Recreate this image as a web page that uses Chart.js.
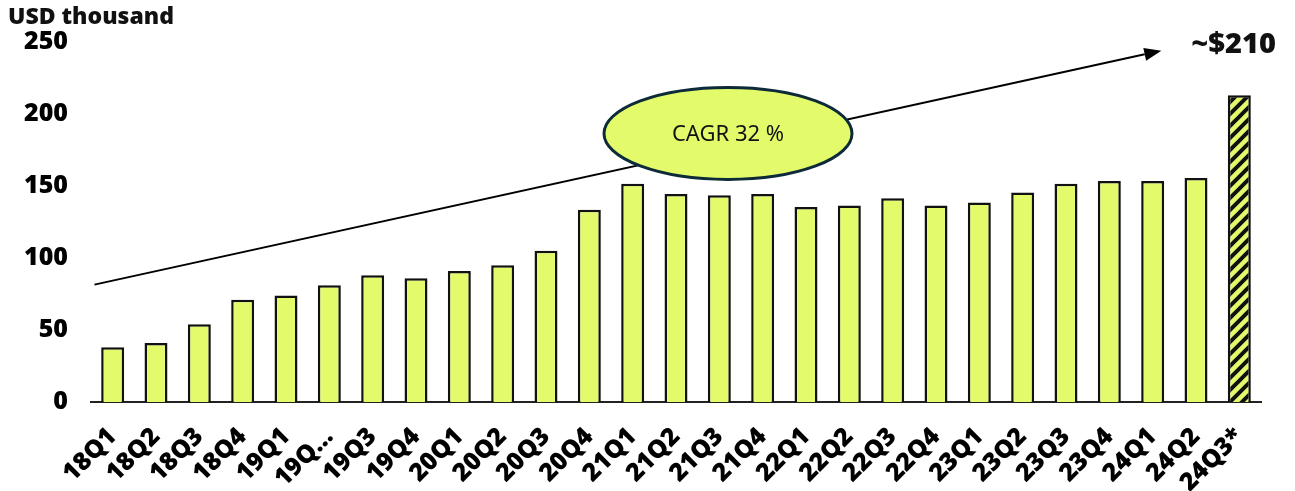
<!DOCTYPE html>
<html>
<head>
<meta charset="utf-8">
<script src="https://cdn.jsdelivr.net/npm/chart.js@4"></script>
<style>
  html, body { margin: 0; padding: 0; background: #fff; }
  #wrap { width: 1295px; height: 491px; position: relative; }
</style>
</head>
<body>
<div id="wrap"><canvas id="chart"></canvas></div>
<script>
const quarters = ['18Q1', '18Q2', '18Q3', '18Q4', '19Q1', '19Q…', '19Q3', '19Q4', '20Q1', '20Q2', '20Q3', '20Q4',
  '21Q1', '21Q2', '21Q3', '21Q4', '22Q1', '22Q2', '22Q3', '22Q4', '23Q1', '23Q2', '23Q3', '23Q4', '24Q1', '24Q2', '24Q3*'];
const values = [38, 41, 54, 71, 74, 81, 88, 86, 91, 95, 105, 133.5,
  151.5, 144.5, 143.5, 144.5, 135.5, 136.5, 141.5, 136.5, 138.5, 145.5, 151.5, 153.5, 153.5, 155.5, 213];
const yTicks = [0, 50, 100, 150, 200, 250];
const unitLabel = 'USD thousand';
const cagrText = 'CAGR 32 %';
const targetText = '~$210';
// trend arrow and callouts, in (category index, value) terms
const trendFrom = { x: -0.42, y: 81.5 };
const trendTo = { x: 24.2, y: 244 };
const cagrAt = { x: 14.2, y: 186.5 };
const targetAt = { x: 25.87, y: 248 };

const barColor = '#e3fb6b';
const heavy = '"Open Sans", sans-serif';

function makeHatch() {
  const c = document.createElement('canvas');
  c.width = 12;
  c.height = 12;
  const g = c.getContext('2d');
  g.fillStyle = barColor;
  g.fillRect(0, 0, 12, 12);
  g.strokeStyle = '#111';
  g.lineWidth = 4;
  g.beginPath();
  g.moveTo(-3, 15); g.lineTo(15, -3);
  g.moveTo(-9, 9); g.lineTo(9, -9);
  g.moveTo(3, 21); g.lineTo(21, 3);
  g.stroke();
  return g.createPattern(c, 'repeat');
}

const hatch = makeHatch();
const fills = values.map((v, i) => (i === values.length - 1 ? hatch : barColor));

const annotations = {
  id: 'annotations',
  afterDatasetsDraw(chart) {
    const { ctx, scales } = chart;
    const px = (p) => ({ x: scales.x.getPixelForValue(p.x), y: scales.y.getPixelForValue(p.y) });
    ctx.save();

    // trend arrow
    const a = px(trendFrom);
    const b = px(trendTo);
    const ang = Math.atan2(b.y - a.y, b.x - a.x);
    const head = 17;
    const hx = b.x - head * Math.cos(ang);
    const hy = b.y - head * Math.sin(ang);
    ctx.strokeStyle = '#000';
    ctx.lineWidth = 2;
    ctx.beginPath();
    ctx.moveTo(a.x, a.y);
    ctx.lineTo(hx, hy);
    ctx.stroke();
    ctx.fillStyle = '#000';
    ctx.beginPath();
    ctx.moveTo(b.x, b.y);
    ctx.lineTo(hx + 6.5 * Math.sin(ang), hy - 6.5 * Math.cos(ang));
    ctx.lineTo(hx - 6.5 * Math.sin(ang), hy + 6.5 * Math.cos(ang));
    ctx.closePath();
    ctx.fill();

    // CAGR ellipse
    const c = px(cagrAt);
    ctx.beginPath();
    ctx.ellipse(c.x, c.y, 124, 46, 0, 0, Math.PI * 2);
    ctx.fillStyle = barColor;
    ctx.fill();
    ctx.lineWidth = 3;
    ctx.strokeStyle = '#0c2a38';
    ctx.stroke();
    ctx.fillStyle = '#111';
    ctx.font = '22px "Noto Sans", sans-serif';
    ctx.textAlign = 'center';
    ctx.textBaseline = 'middle';
    ctx.fillText(cagrText, c.x, c.y + 1);

    // target label
    const t = px(targetAt);
    ctx.font = '800 29px ' + heavy;
    ctx.fillText(targetText, t.x, t.y);

    // unit label
    ctx.textAlign = 'left';
    ctx.font = '800 23px ' + heavy;
    ctx.fillText(unitLabel, 8, 17);
    ctx.restore();
  },
};

new Chart(document.getElementById('chart'), {
  type: 'bar',
  data: {
    labels: quarters,
    datasets: [{
      data: values,
      backgroundColor: fills,
      borderColor: '#111',
      borderWidth: 2.5,
      categoryPercentage: 1,
      barPercentage: 0.53,
    }],
  },
  options: {
    responsive: true,
    maintainAspectRatio: false,
    animation: false,
    layout: { padding: { top: 42, right: 34, bottom: 0, left: 0 } },
    plugins: { legend: { display: false }, tooltip: { enabled: false } },
    scales: {
      x: {
        grid: { display: false, drawTicks: false },
        border: { display: true, color: '#222', width: 2 },
        ticks: {
          color: '#000',
          font: { family: 'Open Sans', weight: 800, size: 25 },
          minRotation: 45,
          maxRotation: 45,
          autoSkip: false,
          padding: 20,
        },
        afterFit: (scale) => { scale.height = 89; },
      },
      y: {
        min: 0,
        max: 250,
        grid: { display: false, drawTicks: false },
        border: { display: false },
        afterBuildTicks: (scale) => { scale.ticks = yTicks.map((v) => ({ value: v })); },
        ticks: {
          color: '#000',
          font: { family: 'Open Sans', weight: 800, size: 25 },
          padding: 23,
        },
        afterFit: (scale) => { scale.width = 91; },
      },
    },
  },
  plugins: [annotations],
});
</script>
</body>
</html>
